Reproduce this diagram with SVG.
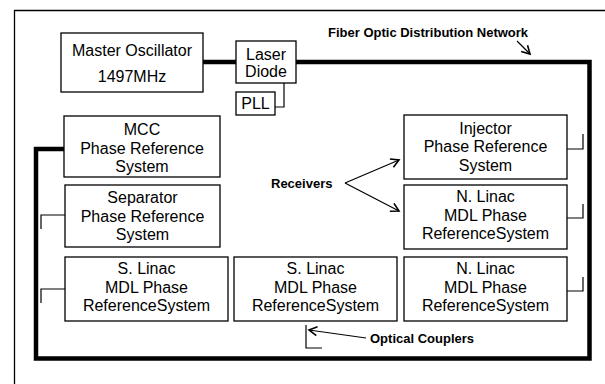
<svg xmlns="http://www.w3.org/2000/svg" width="605" height="384" viewBox="0 0 605 384">
<style>
.box{fill:#fff;stroke:#000;stroke-width:1.3}
.t{font-family:"Liberation Sans",Arial,sans-serif;font-size:16px;fill:#000;text-anchor:middle}
.b{font-family:"Liberation Sans",Arial,sans-serif;font-size:13px;font-weight:bold;fill:#000}
.thick{fill:none;stroke:#000;stroke-width:4.5;stroke-linejoin:miter;stroke-linecap:butt}
.thin{fill:none;stroke:#000;stroke-width:1.2}
</style>
<defs>
<marker id="ah" markerUnits="userSpaceOnUse" markerWidth="12" markerHeight="12" refX="9" refY="5" orient="auto">
<path d="M1,0.5 L9,5 L1,9.5" fill="none" stroke="#000" stroke-width="1.6"/>
</marker>
</defs>
<rect x="0" y="0" width="605" height="384" fill="#fff"/>
<path d="M14.5,400 V10.5 H620" fill="none" stroke="#000" stroke-width="1.3"/>

<g id="connectors">
<path class="thick" d="M203,62 H236"/>
<path class="thick" d="M296,62 H589.5 V358.5 H36 V149 H64"/>
<path class="thin" d="M284,83 V107 H275"/>
<path class="thin" d="M567,149 H583 V134"/>
<path class="thin" d="M567,218 H583 V204"/>
<path class="thin" d="M567,291 H583 V277"/>
<path class="thin" d="M65,215 H41 V229"/>
<path class="thin" d="M65,289 H41 V303"/>
<path class="thin" d="M306,325 V348 H322"/>
<line class="thin" x1="345" y1="183" x2="399" y2="160" marker-end="url(#ah)"/>
<line class="thin" x1="345" y1="183" x2="399" y2="211" marker-end="url(#ah)"/>
<line class="thin" x1="366" y1="338" x2="309" y2="330" marker-end="url(#ah)"/>
<line class="thin" x1="517" y1="41" x2="530" y2="54" marker-end="url(#ah)"/>
</g>

<g id="master-oscillator">
<rect class="box" x="61" y="33" width="142" height="59"/>
<text class="t" x="132" y="56">Master Oscillator</text>
<text class="t" x="132" y="82">1497MHz</text>
</g>
<g id="laser-diode">
<rect class="box" x="236" y="41" width="60" height="42"/>
<text class="t" x="266" y="59.5">Laser</text>
<text class="t" x="266" y="76.5">Diode</text>
</g>
<g id="pll">
<rect class="box" x="236" y="92" width="39" height="23"/>
<text class="t" x="255.5" y="108.5">PLL</text>
</g>
<g id="mcc">
<rect class="box" x="64" y="116" width="156" height="61"/>
<text class="t" x="142" y="135">MCC</text>
<text class="t" x="142" y="153.5">Phase Reference</text>
<text class="t" x="142" y="172">System</text>
</g>
<g id="separator">
<rect class="box" x="65" y="185" width="155" height="62"/>
<text class="t" x="142.5" y="203">Separator</text>
<text class="t" x="142.5" y="221.5">Phase Reference</text>
<text class="t" x="142.5" y="240">System</text>
</g>
<g id="s-linac-1">
<rect class="box" x="65" y="257" width="163" height="64"/>
<text class="t" x="146.5" y="274">S. Linac</text>
<text class="t" x="146.5" y="292.5">MDL Phase</text>
<text class="t" x="146.5" y="311">ReferenceSystem</text>
</g>
<g id="s-linac-2">
<rect class="box" x="234" y="257" width="163" height="64"/>
<text class="t" x="315.5" y="274">S. Linac</text>
<text class="t" x="315.5" y="292.5">MDL Phase</text>
<text class="t" x="315.5" y="311">ReferenceSystem</text>
</g>
<g id="n-linac-2">
<rect class="box" x="404" y="257" width="163" height="64"/>
<text class="t" x="485.5" y="274">N. Linac</text>
<text class="t" x="485.5" y="292.5">MDL Phase</text>
<text class="t" x="485.5" y="311">ReferenceSystem</text>
</g>
<g id="injector">
<rect class="box" x="404" y="115" width="163" height="64"/>
<text class="t" x="485.5" y="133.5">Injector</text>
<text class="t" x="485.5" y="152">Phase Reference</text>
<text class="t" x="485.5" y="170.5">System</text>
</g>
<g id="n-linac-1">
<rect class="box" x="404" y="185" width="163" height="64"/>
<text class="t" x="485.5" y="202">N. Linac</text>
<text class="t" x="485.5" y="220.5">MDL Phase</text>
<text class="t" x="485.5" y="239">ReferenceSystem</text>
</g>

<g id="labels">
<text class="b" x="328" y="37">Fiber Optic Distribution Network</text>
<text class="b" x="271" y="188">Receivers</text>
<text class="b" x="370" y="343">Optical Couplers</text>
</g>
</svg>
